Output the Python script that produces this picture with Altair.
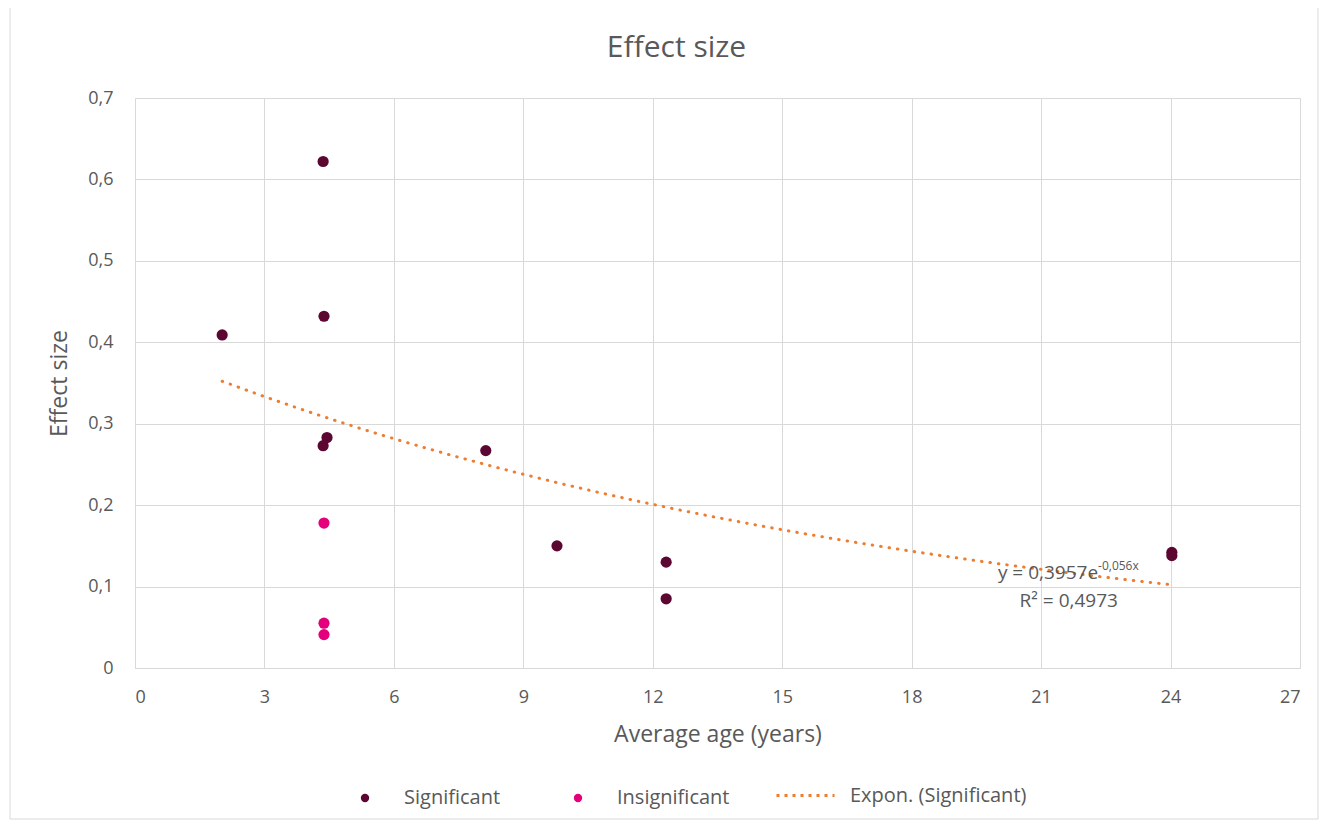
import altair as alt
import pandas as pd

# ---- data ----
sig_x = [2.02, 4.36, 4.38, 4.45, 4.36, 8.13, 9.78, 12.31, 12.31, 24.03, 24.03]
sig_y = [0.409, 0.622, 0.432, 0.283, 0.273, 0.267, 0.150, 0.130, 0.085, 0.142, 0.138]
ins_x = [4.38, 4.38, 4.38]
ins_y = [0.178, 0.055, 0.041]

series_names = ["Significant", "Insignificant"]
series_colors = ["#5c0632", "#e4007c"]
trend_name = "Expon. (Significant)"
trend_color = "#ed7d31"

x_ticks = [0, 3, 6, 9, 12, 15, 18, 21, 24, 27]
y_ticks = [0, 0.1, 0.2, 0.3, 0.4, 0.5, 0.6, 0.7]

eq_main_text = ["y = 0,3957e", "R² = 0,4973"]
eq_main_x = [22.32, 22.78]
eq_main_y = [0.1167, 0.0823]
eq_sup_text = ["-0,056x"]
eq_sup_x = [22.32]
eq_sup_y = [0.125]

GRAY = "#595959"
GRID = "#d9d9d9"
FONT = "Open Sans"

points = pd.DataFrame({
    "x": sig_x + ins_x,
    "y": sig_y + ins_y,
    "series": [series_names[0]] * len(sig_x) + [series_names[1]] * len(ins_x),
})
sig = pd.DataFrame({"x": sig_x, "y": sig_y})
eq_main = pd.DataFrame({"x": eq_main_x, "y": eq_main_y, "t": eq_main_text})
eq_sup = pd.DataFrame({"x": eq_sup_x, "y": eq_sup_y, "t": eq_sup_text})

W, H = 1165, 570

xscale = alt.Scale(domain=[0, 27], nice=False, zero=False)
yscale = alt.Scale(domain=[0, 0.7], nice=False)

xaxis = alt.Axis(values=x_ticks, title="Average age (years)", labelPadding=20,
                 titlePadding=17)
yaxis = alt.Axis(values=y_ticks, title="Effect size", labelPadding=22, titlePadding=16,
                 labelExpr="datum.value == 0 ? '0' : replace(format(datum.value, '.1f'), '.', ',')")

frame = alt.Chart(pd.DataFrame({"a": [0]})).mark_rect(
    filled=False, stroke=GRID, strokeWidth=1
).encode(
    x=alt.value(-125), x2=alt.value(1183), y=alt.value(-91), y2=alt.value(721)
)

pts = alt.Chart(points).mark_circle(size=125, opacity=1).encode(
    x=alt.X("x:Q", scale=xscale, axis=xaxis),
    y=alt.Y("y:Q", scale=yscale, axis=yaxis),
    color=alt.Color(
        "series:N",
        scale=alt.Scale(domain=series_names, range=series_colors),
        legend=alt.Legend(
            title=None, orient="none", legendX=220, legendY=686,
            direction="horizontal", symbolType="circle", symbolSize=70,
            clipHeight=28,
            labelOffset=29, columnPadding=67, labelFontSize=20, labelLimit=400,
            labelColor=GRAY, labelFont=FONT,
        ),
    ),
)

trend = alt.Chart(sig).transform_calculate(
    ly="log(datum.y)"
).transform_regression(
    "x", "ly", method="poly", order=1
).transform_calculate(
    ey="exp(datum.ly)", series=f"'{trend_name}'"
).mark_line(strokeWidth=3, strokeDash=[0.5, 8], strokeCap="round").encode(
    x=alt.X("x:Q", scale=xscale),
    y=alt.Y("ey:Q", scale=yscale),
    color=alt.Color(
        "series:N",
        scale=alt.Scale(domain=[trend_name], range=[trend_color]),
        legend=alt.Legend(
            title=None, orient="none", legendX=640, legendY=667,
            symbolType="stroke", symbolSize=3364, symbolDash=[3, 5],
            symbolStrokeWidth=3, symbolStrokeColor=trend_color,
            labelOffset=14, labelFontSize=20, labelLimit=400,
            labelColor=GRAY, labelFont=FONT,
        ),
    ),
)

txt_main = alt.Chart(eq_main).mark_text(
    align="right", baseline="middle", fontSize=19, color=GRAY, font=FONT
).encode(x=alt.X("x:Q", scale=xscale), y=alt.Y("y:Q", scale=yscale), text="t:N")

txt_sup = alt.Chart(eq_sup).mark_text(
    align="left", baseline="middle", fontSize=12, color=GRAY, font=FONT
).encode(x=alt.X("x:Q", scale=xscale), y=alt.Y("y:Q", scale=yscale), text="t:N")

chart = alt.layer(frame, pts, trend, txt_main, txt_sup).resolve_scale(
    color="independent"
).properties(
    width=W, height=H,
    autosize=alt.AutoSizeParams(type="none"),
    padding={"left": 127, "top": 90, "right": 20, "bottom": 154},
    title=alt.TitleParams("Effect size", fontSize=30, color=GRAY, font=FONT,
                          fontWeight="normal", anchor="middle", dx=-41, offset=0, dy=56),
).configure_view(
    stroke=None
).configure_axis(
    grid=True, gridColor=GRID, domainColor=GRID, ticks=False,
    labelFont=FONT, labelFontSize=18, labelColor=GRAY,
    titleFont=FONT, titleFontSize=23, titleColor=GRAY, titleFontWeight="normal",
)

chart.save("out.html", embed_options={"renderer": "svg", "actions": False})
